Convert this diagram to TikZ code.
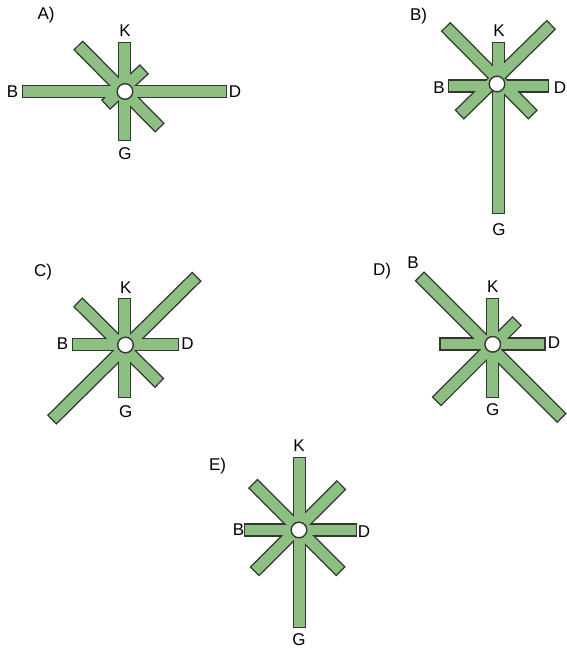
\documentclass[tikz,border=0pt]{standalone}
\usepackage{fontspec}
\setmainfont{Liberation Sans}
\definecolor{bargreen}{RGB}{141,191,131}
\definecolor{barline}{RGB}{50,56,50}
\tikzset{
  barout/.style={draw=barline,line width=13.4pt,line cap=butt,shorten <=-1.4pt,shorten >=-1.4pt},
  barin/.style={draw=bargreen,line width=10.6pt,line cap=butt},
  hub/.style={draw=barline,fill=white,line width=1.4pt},
  lab/.style={inner sep=0pt,font=\fontsize{17}{17}\selectfont},
}
\newcommand\drawstar[3]{%
  \foreach \ax/\ay/\bx/\by in {#1} \draw[barout] (\ax,\ay) -- (\bx,\by);
  \foreach \ax/\ay/\bx/\by in {#1} \draw[barin] (\ax,\ay) -- (\bx,\by);
  \draw[hub] (#2,#3) circle[radius=7.8];
}
\begin{document}
\begin{tikzpicture}[x=1pt,y=-1pt]
\useasboundingbox (0,0) rectangle (566,653);
% Panel A
\drawstar{23/91.5/226/91.5, 124.5/43/124.5/140, 79/46/159/127, 143.5/70/106.5/104}{125}{91.5}
\node[lab] (At) at (46,15) {A)};
\node[lab] (AK) at (125,31) {K};
\node[lab] (AB) at (12.5,91.5) {B};
\node[lab] (AD) at (235,91.5) {D};
\node[lab] (AG) at (125,153.5) {G};
% Panel B
\drawstar{449/86/548/86, 498.5/43/498.5/213, 446.5/27.5/532.2/114, 550.5/25.5/460.2/114}{497}{84}
\node[lab] (Bt) at (418.5,16) {B)};
\node[lab] (BK) at (499,31) {K};
\node[lab] (BB) at (439,87.5) {B};
\node[lab] (BD) at (560,87.5) {D};
\node[lab] (BG) at (499,230) {G};
% Panel C
\drawstar{73.3/344.3/177.7/344.3, 124.5/299.3/124.5/396.7, 196/277.3/52.7/419, 78.7/303/158.7/382.3}{125.5}{345}
\node[lab] (Ct) at (43,272) {C)};
\node[lab] (CK) at (125.7,287.3) {K};
\node[lab] (CB) at (62.5,343.5) {B};
\node[lab] (CD) at (187.5,343.5) {D};
\node[lab] (CG) at (125.7,411.7) {G};
% Panel D
\drawstar{440.7/343.8/544.3/343.8, 492.5/299.3/492.5/396.7, 420.3/277/561/417.3, 516.3/321.7/437.3/400.7}{492.7}{344.3}
\node[lab] (Dt) at (382,271.5) {D)};
\node[lab] (DB) at (413,263) {B};
\node[lab] (DK) at (492.7,286.7) {K};
\node[lab] (DD) at (554,343) {D};
\node[lab] (DG) at (492.7,410) {G};
% Panel E
\drawstar{245/530/356/530, 299.5/458/299.5/627, 253.7/484.3/340/570.7, 340.7/485.7/255.3/570.7}{299}{530}
\node[lab] (Et) at (217.5,466.5) {E)};
\node[lab] (EK) at (299,446) {K};
\node[lab] (EB) at (238.5,530) {B};
\node[lab] (ED) at (364,531.5) {D};
\node[lab] (EG) at (299,640) {G};
\end{tikzpicture}
\end{document}
